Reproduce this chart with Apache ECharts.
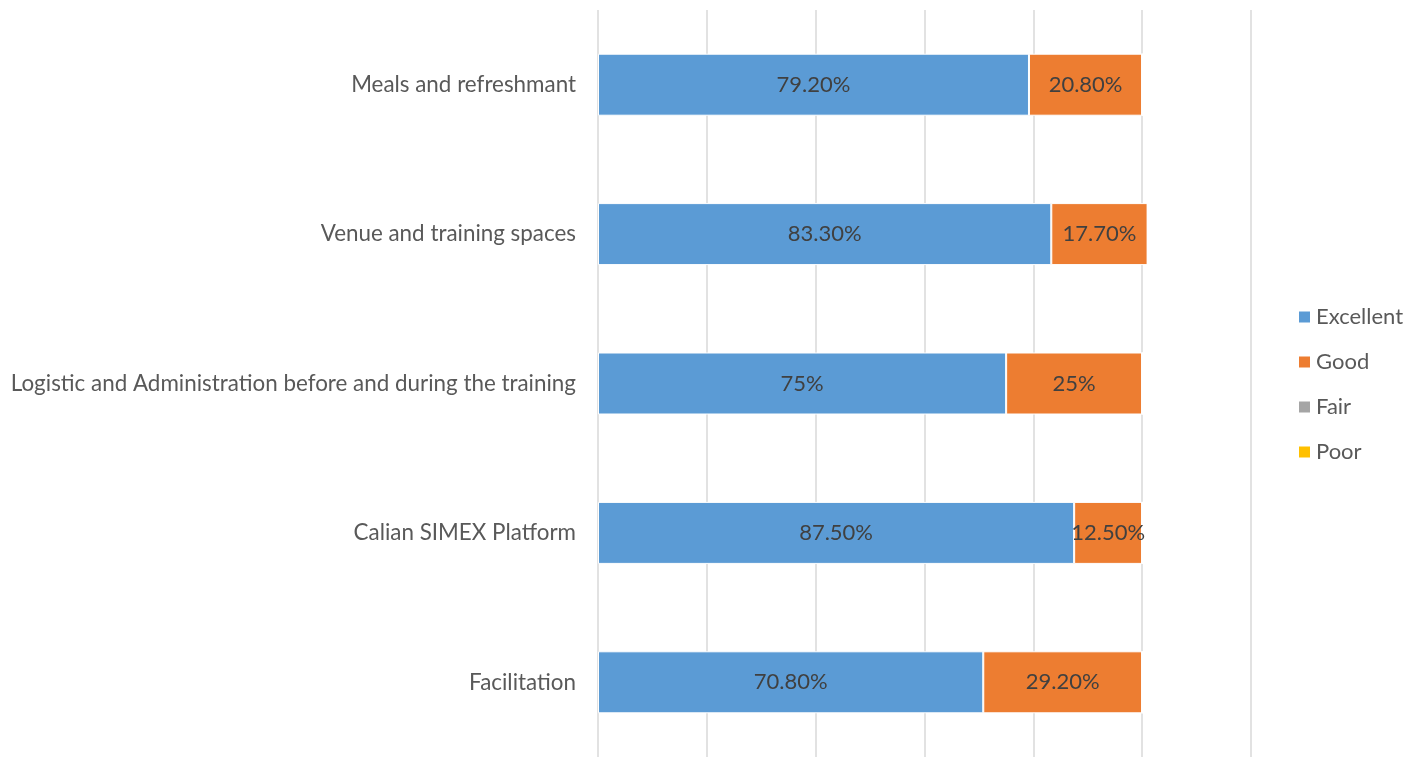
<!DOCTYPE html>
<html>
<head>
<meta charset="utf-8">
<script src="https://cdn.jsdelivr.net/npm/echarts@6/dist/echarts.min.js"></script>
<style>
  html, body { margin: 0; padding: 0; background: #fff; }
  #main { width: 1416px; height: 757px; }
</style>
</head>
<body>
<div id="main"></div>
<script>
var categories = ['Facilitation', 'Calian SIMEX Platform', 'Logistic and Administration before and during the training', 'Venue and training spaces', 'Meals and refreshmant'];
var seriesNames = ['Excellent', 'Good', 'Fair', 'Poor'];
var excellent = [70.8, 87.5, 75, 83.3, 79.2];
var good = [29.2, 12.5, 25, 17.7, 20.8];
var fair = [0, 0, 0, 0, 0];
var poor = [0, 0, 0, 0, 0];
var excellentLabels = ['70.80%', '87.50%', '75%', '83.30%', '79.20%'];
var goodLabels = ['29.20%', '12.50%', '25%', '17.70%', '20.80%'];
var colors = ['#5b9bd5', '#ed7d31', '#a5a5a5', '#ffc000'];

var chart = echarts.init(document.getElementById('main'));

function bar(name, data, labels, color) {
  return {
    name: name,
    type: 'bar',
    stack: 'total',
    barWidth: 62,
    data: data,
    itemStyle: { color: color, borderColor: '#ffffff', borderWidth: 1 },
    label: {
      show: !!labels,
      position: 'inside',
      color: '#404040',
      fontFamily: 'Lato',
      fontSize: 22,
      formatter: function (p) { return labels ? labels[p.dataIndex] : ''; }
    },
    emphasis: { disabled: true }
  };
}

var option = {
  animation: false,
  grid: { left: 598, right: 165, top: 10, height: 748, containLabel: false },
  legend: {
    orient: 'vertical',
    left: 1292,
    top: 301,
    itemWidth: 13,
    itemHeight: 13,
    itemGap: 23,
    icon: 'rect',
    textStyle: { color: '#595959', fontFamily: 'Lato', fontSize: 22 },
    data: seriesNames
  },
  xAxis: {
    type: 'value',
    min: 0,
    max: 120,
    interval: 20,
    axisLine: { show: false },
    axisTick: { show: false },
    axisLabel: { show: false },
    splitLine: { lineStyle: { color: '#d9d9d9', width: 1.5 } }
  },
  yAxis: {
    type: 'category',
    data: categories,
    axisLine: { show: false },
    axisTick: { show: false },
    axisLabel: { color: '#595959', fontFamily: 'Lato', fontSize: 22.4, margin: 22 }
  },
  series: [
    bar(seriesNames[0], excellent, excellentLabels, colors[0]),
    bar(seriesNames[1], good, goodLabels, colors[1]),
    bar(seriesNames[2], fair, null, colors[2]),
    bar(seriesNames[3], poor, null, colors[3])
  ]
};

chart.setOption(option);
</script>
</body>
</html>
